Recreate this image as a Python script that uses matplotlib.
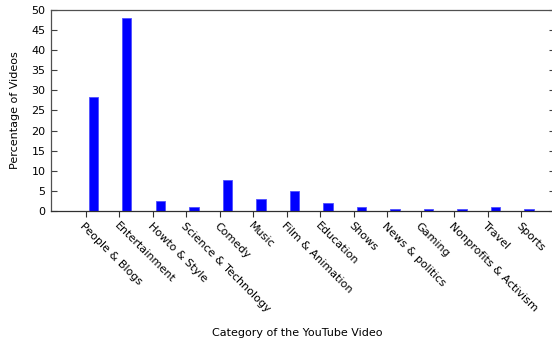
import numpy as np
import matplotlib
matplotlib.use("Agg")
import matplotlib.pyplot as plt

categories = ["People & Blogs", "Entertainment", "Howto & Style",
              "Science & Technology", "Comedy", "Music", "Film & Animation",
              "Education", "Shows", "News & politics", "Gaming",
              "Nonprofits & Activism", "Travel", "Sports"]
percentages = [28.4, 48.1, 2.4, 0.9, 7.6, 2.9, 4.9, 2.0, 0.9, 0.4, 0.4, 0.4, 0.9, 0.4]
yticks = [0, 5, 10, 15, 20, 25, 30, 35, 40, 45, 50]

W, H = 552, 345
fig = plt.figure(figsize=(W / 100, H / 100), dpi=100)
# axes box runs a little past the right edge of the figure
ax = fig.add_axes([51 / W, 1 - 211 / H, 504 / W, 201 / H])

x = np.arange(len(categories))
ax.bar(x + 0.23, percentages, width=0.28, color="#0000ff",
       edgecolor="#5050ff", linewidth=0.6)

ax.set_xlim(-1.03, 14.0)
ax.set_ylim(0, 50)
ax.set_yticks(yticks)
ax.set_xticks(x)
ax.set_xticklabels(categories, rotation=-45, ha="left", va="top",
                   rotation_mode="anchor", fontsize=8)
ax.tick_params(axis="x", direction="out", length=4, width=0.8, pad=3,
               colors="#303030", labelcolor="black")
ax.tick_params(axis="y", direction="in", length=4, width=0.8, labelsize=8,
               left=True, right=True, pad=4, colors="#404040",
               labelcolor="black")
for name, sp in ax.spines.items():
    sp.set_color("#505050")
    sp.set_linewidth(0.9)
ax.spines["bottom"].set_color("#303030")

fig.text(15 / W, 1 - 110 / H, "Percentage of Videos", rotation=90,
         ha="center", va="center", fontsize=8)
fig.text(297 / W, 1 - 333 / H, "Category of the YouTube Video",
         ha="center", va="center", fontsize=8)

fig.savefig("out.png", dpi=100)
